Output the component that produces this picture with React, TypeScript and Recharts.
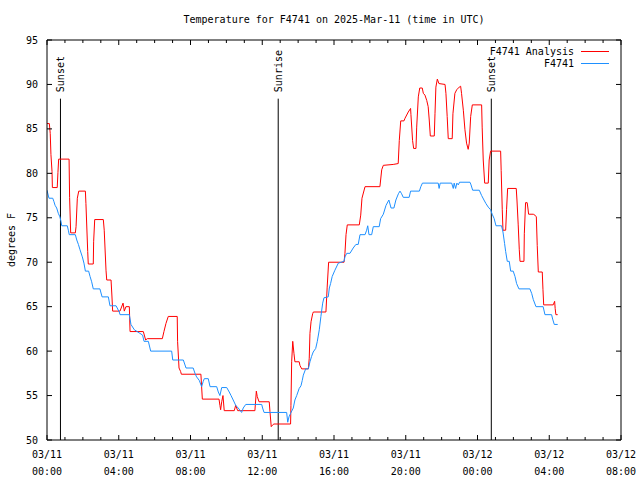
import { LineChart, Line, XAxis, YAxis, ReferenceLine, Legend } from "recharts";

const TITLE = "Temperature for F4741 on 2025-Mar-11 (time in UTC)";
const FONT = "'DejaVu Sans Mono', 'Liberation Mono', monospace";

// x values are hours since 03/11 00:00 UTC
const hourTicks = [
  0, 1, 2, 3, 4, 5, 6, 7, 8, 9, 10, 11, 12, 13, 14, 15, 16, 17, 18, 19, 20,
  21, 22, 23, 24, 25, 26, 27, 28, 29, 30, 31, 32,
];
const tickDays = ["03/11", "03/11", "03/11", "03/11", "03/11", "03/11", "03/12", "03/12", "03/12"];
const tickTimes = ["00:00", "04:00", "08:00", "12:00", "16:00", "20:00", "00:00", "04:00", "08:00"];
const tempTicks = [50, 55, 60, 65, 70, 75, 80, 85, 90, 95];

const eventHours = [0.75, 12.89, 24.77];
const eventNames = ["Sunset", "Sunrise", "Sunset"];

const seriesNames = ["F4741 Analysis", "F4741"];
const seriesColors = ["#ff0000", "#1e90ff"];

const analysisHours = [
  0.0, 0.13, 0.18, 0.22, 0.28, 0.3, 0.57, 0.61, 0.65, 1.23, 1.26, 1.32, 1.58, 1.62, 1.69, 1.77,
  2.14, 2.17, 2.27, 2.3, 2.58, 2.6, 2.66, 3.14, 3.19, 3.29, 3.33, 3.57, 3.62, 3.66, 4.07, 4.24,
  4.31, 4.4, 4.59, 4.63, 5.37, 5.5, 5.59, 6.43, 6.52, 6.63, 6.76, 7.26, 7.28, 7.36, 7.45, 7.49,
  8.58, 8.66, 9.59, 9.64, 9.68, 9.74, 9.81, 9.88, 10.44, 10.52, 10.63, 11.59, 11.67, 11.72,
  11.82, 12.39, 12.43, 12.5, 12.58, 12.65, 13.58, 13.6, 13.64, 13.7, 13.77, 13.82, 14.06, 14.1,
  14.2, 14.57, 14.62, 14.66, 14.72, 14.81, 14.85, 15.55, 15.62, 15.7, 16.56, 16.61, 16.67,
  16.74, 17.41, 17.49, 17.56, 17.73, 18.56, 18.66, 18.75, 19.3, 19.58, 19.64, 19.72, 19.9,
  19.96, 20.14, 20.27, 20.29, 20.38, 20.44, 20.57, 20.61, 20.7, 20.78, 20.92, 20.98, 21.07,
  21.17, 21.25, 21.31, 21.37, 21.59, 21.63, 21.68, 21.76, 21.85, 22.19, 22.24, 22.31, 22.37,
  22.59, 22.63, 22.74, 22.84, 22.98, 23.06, 23.11, 23.21, 23.3, 23.39, 23.48, 23.54, 23.62,
  23.71, 24.23, 24.26, 24.32, 24.4, 24.6, 24.65, 24.73, 25.29, 25.32, 25.38, 25.42, 25.57,
  25.62, 25.68, 26.16, 26.2, 26.27, 26.33, 26.37, 26.59, 26.61, 26.68, 26.77, 26.81, 26.85,
  27.11, 27.2, 27.28, 27.33, 27.39, 27.61, 27.65, 27.69, 28.22, 28.3, 28.33, 28.37, 28.47,
];
const analysisTemps = [
  85.6, 85.6, 84.5, 82.1, 80.2, 78.4, 78.4, 80.1, 81.6, 81.6, 77.3, 73.3, 73.3, 74.0, 77.2, 78.0,
  78.0, 76.6, 71.2, 69.8, 69.8, 72.3, 74.8, 74.8, 73.6, 69.1, 68.0, 68.0, 66.2, 64.5, 64.5, 65.4,
  64.5, 65.0, 65.0, 62.2, 62.2, 61.25, 61.4, 61.4, 62.2, 63.1, 63.9, 63.9, 61.1, 58.1, 57.7, 57.4,
  57.4, 54.6, 54.6, 53.9, 53.4, 54.3, 55.0, 53.3, 53.3, 53.9, 53.3, 53.3, 55.5, 54.9,
  54.3, 54.3, 53.2, 51.5, 51.7, 51.8, 51.8, 53.9, 58.8, 61.1, 59.7, 58.8, 58.8, 58.4,
  58.0, 58.0, 59.2, 62.0, 63.3, 64.2, 64.4, 64.4, 67.2, 70.0, 70.0, 71.0, 73.1,
  74.2, 74.2, 75.3, 77.2, 78.5, 78.5, 80.4, 80.9, 81.0, 81.1, 83.7, 85.9, 85.9,
  86.2, 86.9, 87.3, 86.6, 83.7, 82.8, 82.8, 85.2, 88.6, 89.6, 89.6, 89.0, 88.8,
  88.2, 87.5, 86.0, 84.2, 84.2, 86.7, 89.7, 90.6, 90.1, 90.0, 89.0, 86.4, 83.9,
  83.9, 86.7, 89.0, 89.4, 89.7, 89.8, 89.0, 87.1, 84.9, 83.4, 82.7, 83.4, 86.4,
  87.7, 87.7, 85.2, 81.5, 78.9, 78.9, 81.5, 82.5, 82.5, 80.3, 75.9, 73.6, 73.6,
  75.9, 78.3, 78.3, 77.0, 74.2, 71.4, 70.1, 70.1, 73.2, 76.7, 76.7, 76.1, 75.4,
  75.4, 75.3, 75.1, 71.9, 68.9, 68.9, 66.9, 65.2, 65.2, 65.6, 64.8, 64.1, 64.1,
];

const stationHours = [
  0.0, 0.11, 0.32, 0.39, 0.45, 0.54, 0.63, 0.72, 0.78, 0.82, 1.13, 1.19, 1.24, 1.58, 1.66, 1.75,
  1.84, 1.97, 2.06, 2.14, 2.32, 2.4, 2.49, 2.58, 2.95, 3.07, 3.42, 3.51, 3.85, 4.03, 4.07, 4.59,
  4.68, 4.87, 5.18, 5.33, 5.41, 5.65, 5.78, 6.95, 7.01, 7.6, 7.75, 8.15, 8.25, 8.34, 8.49, 8.62,
  8.71, 8.77, 8.99, 9.09, 9.46, 9.55, 9.64, 9.74, 10.02, 10.16, 10.26, 10.38, 10.52, 10.66,
  10.85, 10.94, 11.08, 11.97, 12.02, 12.1, 13.36, 13.42, 13.49, 13.58, 13.73, 13.82, 13.92,
  14.06, 14.16, 14.23, 14.29, 14.42, 14.57, 14.66, 14.75, 14.84, 14.98, 15.07, 15.18, 15.27,
  15.37, 15.44, 15.68, 15.74, 15.81, 15.9, 16.05, 16.24, 16.56, 16.61, 16.71, 16.89, 17.07,
  17.22, 17.35, 17.45, 17.73, 17.82, 17.88, 17.95, 18.1, 18.19, 18.52, 18.6, 18.75, 18.9,
  19.06, 19.18, 19.34, 19.45, 19.59, 19.68, 19.77, 19.86, 20.19, 20.27, 20.76, 20.84, 20.93,
  21.81, 21.86, 21.92, 22.56, 22.65, 22.7, 22.78, 22.85, 22.93, 23.0, 23.58, 23.64, 23.73,
  24.1, 24.23, 24.36, 24.47, 24.6, 24.73, 24.82, 24.93, 25.03, 25.34, 25.42, 25.51, 25.57,
  25.66, 25.77, 25.85, 25.99, 26.09, 26.18, 26.31, 26.92, 27.02, 27.11, 27.26, 27.66, 27.76,
  28.13, 28.19, 28.28, 28.47,
];
const stationTemps = [
  78.1, 77.2, 77.2, 76.8, 76.4, 76.1, 75.5, 75.1, 74.6, 74.1, 74.1, 73.6, 73.1, 73.1, 72.5, 72.0,
  71.4, 70.6, 69.9, 69.0, 69.0, 68.4, 67.8, 67.0, 67.0, 66.1, 66.1, 65.1, 65.1, 64.4, 64.1, 64.1,
  63.0, 62.4, 62.0, 61.8, 61.1, 61.1, 60.0, 60.0, 59.0, 59.0, 58.1, 58.1, 57.5, 57.1, 56.7, 56.0,
  56.6, 56.9, 56.9, 56.0, 56.0, 55.4, 55.0, 55.9, 55.9, 55.4, 55.0, 54.5, 53.9, 53.6,
  53.1, 53.6, 54.0, 54.0, 53.6, 53.1, 53.1, 52.0, 52.6, 53.0, 53.6, 54.5, 55.0,
  55.8, 56.1, 56.7, 57.3, 58.0, 58.0, 58.8, 59.4, 59.9, 60.3, 61.1, 62.4, 63.9,
  65.4, 66.0, 66.1, 67.1, 67.6, 68.4, 69.1, 69.9, 70.1, 70.6, 71.0, 71.0, 71.6,
  72.0, 72.0, 73.1, 73.1, 73.6, 74.1, 73.1, 73.1, 74.0, 74.0, 74.9, 75.4, 76.4,
  77.0, 76.1, 76.1, 77.0, 77.7, 78.0, 77.7, 77.3, 77.3, 78.0, 78.0, 78.5, 78.9,
  78.9, 78.3, 78.9, 78.9, 78.3, 78.9, 78.3, 78.9, 78.7, 79.0, 79.0, 78.7, 78.1,
  78.1, 77.5, 77.0, 76.6, 76.2, 75.9, 75.4, 74.9, 74.1, 74.1, 73.4, 72.1, 71.2,
  70.1, 70.1, 69.0, 69.0, 68.4, 67.6, 67.0, 67.0, 66.5, 65.8, 65.0, 65.0, 64.1,
  64.1, 63.6, 63.0, 63.0,
];

const analysisData = analysisHours.map((h, i) => ({ h, temp: analysisTemps[i] }));
const stationData = stationHours.map((h, i) => ({ h, temp: stationTemps[i] }));

const MARK_TOP = 88.4;

function BottomTick({ x, y, payload }: any) {
  const h = payload.value;
  const major = h % 4 === 0;
  return (
    <g>
      <line x1={x} y1={y} x2={x} y2={y - (major ? 5 : 3)} stroke="#000" />
      {major && (
        <text textAnchor="middle" fontFamily={FONT} fontSize={10} fill="#000">
          <tspan x={x} y={y + 18}>{tickDays[h / 4]}</tspan>
          <tspan x={x} y={y + 35}>{tickTimes[h / 4]}</tspan>
        </text>
      )}
    </g>
  );
}

function TopTick({ x, y, payload }: any) {
  const major = payload.value % 4 === 0;
  return <line x1={x} y1={y} x2={x} y2={y + (major ? 5 : 3)} stroke="#000" />;
}

function LeftTick({ x, y, payload }: any) {
  return (
    <g>
      <line x1={x} y1={y} x2={x + 5} y2={y} stroke="#000" />
      <text x={x - 9} y={y + 3.5} textAnchor="end" fontFamily={FONT} fontSize={10} fill="#000">
        {payload.value}
      </text>
    </g>
  );
}

function RightTick({ x, y }: any) {
  return <line x1={x} y1={y} x2={x - 5} y2={y} stroke="#000" />;
}

function MarkLabel({ viewBox, value }: any) {
  const x = viewBox.x;
  const y = viewBox.y - 6.5;
  return (
    <text
      x={x}
      y={y}
      transform={`rotate(-90, ${x}, ${y})`}
      textAnchor="start"
      dominantBaseline="central"
      fontFamily={FONT}
      fontSize={10}
      fill="#000"
    >
      {value}
    </text>
  );
}

function YTitle({ viewBox }: any) {
  const x = viewBox.x + 11;
  const y = viewBox.y + viewBox.height / 2;
  return (
    <text
      x={x}
      y={y}
      transform={`rotate(-90, ${x}, ${y})`}
      textAnchor="middle"
      dominantBaseline="central"
      fontFamily={FONT}
      fontSize={10}
      fill="#000"
    >
      degrees F
    </text>
  );
}

function LegendBox() {
  return (
    <div style={{ fontFamily: FONT, fontSize: 10, color: "#000" }}>
      {seriesNames.map((name, i) => (
        <div
          key={name}
          style={{ display: "flex", justifyContent: "flex-end", alignItems: "center", height: 12 }}
        >
          <span>{name}</span>
          <svg width={28} height={12} style={{ marginLeft: 7 }}>
            <line x1={0} y1={6.5} x2={28} y2={6.5} stroke={seriesColors[i]} strokeWidth={1} />
          </svg>
        </div>
      ))}
    </div>
  );
}

export default function App() {
  return (
    <div style={{ position: "absolute", left: 0, top: 0, background: "#fff" }}>
      <LineChart width={640} height={480} margin={{ top: 39, right: 18, bottom: 0, left: 0 }}>
        <XAxis
          type="number"
          dataKey="h"
          domain={[0, 32]}
          ticks={hourTicks}
          interval={0}
          allowDataOverflow
          height={40}
          tickSize={0}
          tickMargin={0}
          tickLine={false}
          tick={BottomTick}
          axisLine={{ stroke: "#000" }}
        />
        {/* mirrored axes so the frame gets ticks on all four sides */}
        <XAxis
          xAxisId="top"
          orientation="top"
          type="number"
          dataKey="h"
          domain={[0, 32]}
          ticks={hourTicks}
          interval={0}
          allowDataOverflow
          height={1}
          tickSize={0}
          tickMargin={0}
          tickLine={false}
          tick={TopTick}
          axisLine={{ stroke: "#000" }}
          label={{ value: TITLE, position: "top", offset: 16, fill: "#000", fontSize: 10, fontFamily: FONT }}
        />
        <YAxis
          type="number"
          domain={[50, 95]}
          ticks={tempTicks}
          interval={0}
          allowDataOverflow
          width={47}
          tickSize={0}
          tickMargin={0}
          tickLine={false}
          tick={LeftTick}
          axisLine={{ stroke: "#000" }}
          label={{ content: YTitle }}
        />
        <YAxis
          yAxisId="right"
          orientation="right"
          type="number"
          domain={[50, 95]}
          ticks={tempTicks}
          interval={0}
          allowDataOverflow
          width={1}
          tickSize={0}
          tickMargin={0}
          tickLine={false}
          tick={RightTick}
          axisLine={{ stroke: "#000" }}
        />
        {eventHours.map((h, i) => (
          <ReferenceLine
            key={`ev-${i}`}
            segment={[
              { x: h, y: 50 },
              { x: h, y: MARK_TOP },
            ]}
            stroke="#000"
            strokeWidth={1}
            label={{ value: eventNames[i], content: MarkLabel }}
          />
        ))}
        <Line
          name={seriesNames[0]}
          data={analysisData}
          dataKey="temp"
          type="linear"
          stroke={seriesColors[0]}
          strokeWidth={1}
          dot={false}
          activeDot={false}
          isAnimationActive={false}
        />
        <Line
          name={seriesNames[1]}
          data={stationData}
          dataKey="temp"
          xAxisId="top"
          yAxisId="right"
          type="linear"
          stroke={seriesColors[1]}
          strokeWidth={1}
          dot={false}
          activeDot={false}
          isAnimationActive={false}
        />
        <Legend
          layout="horizontal"
          verticalAlign="middle"
          align="center"
          content={LegendBox}
          wrapperStyle={{ top: 45, left: 470, width: 139 }}
        />
      </LineChart>
    </div>
  );
}
